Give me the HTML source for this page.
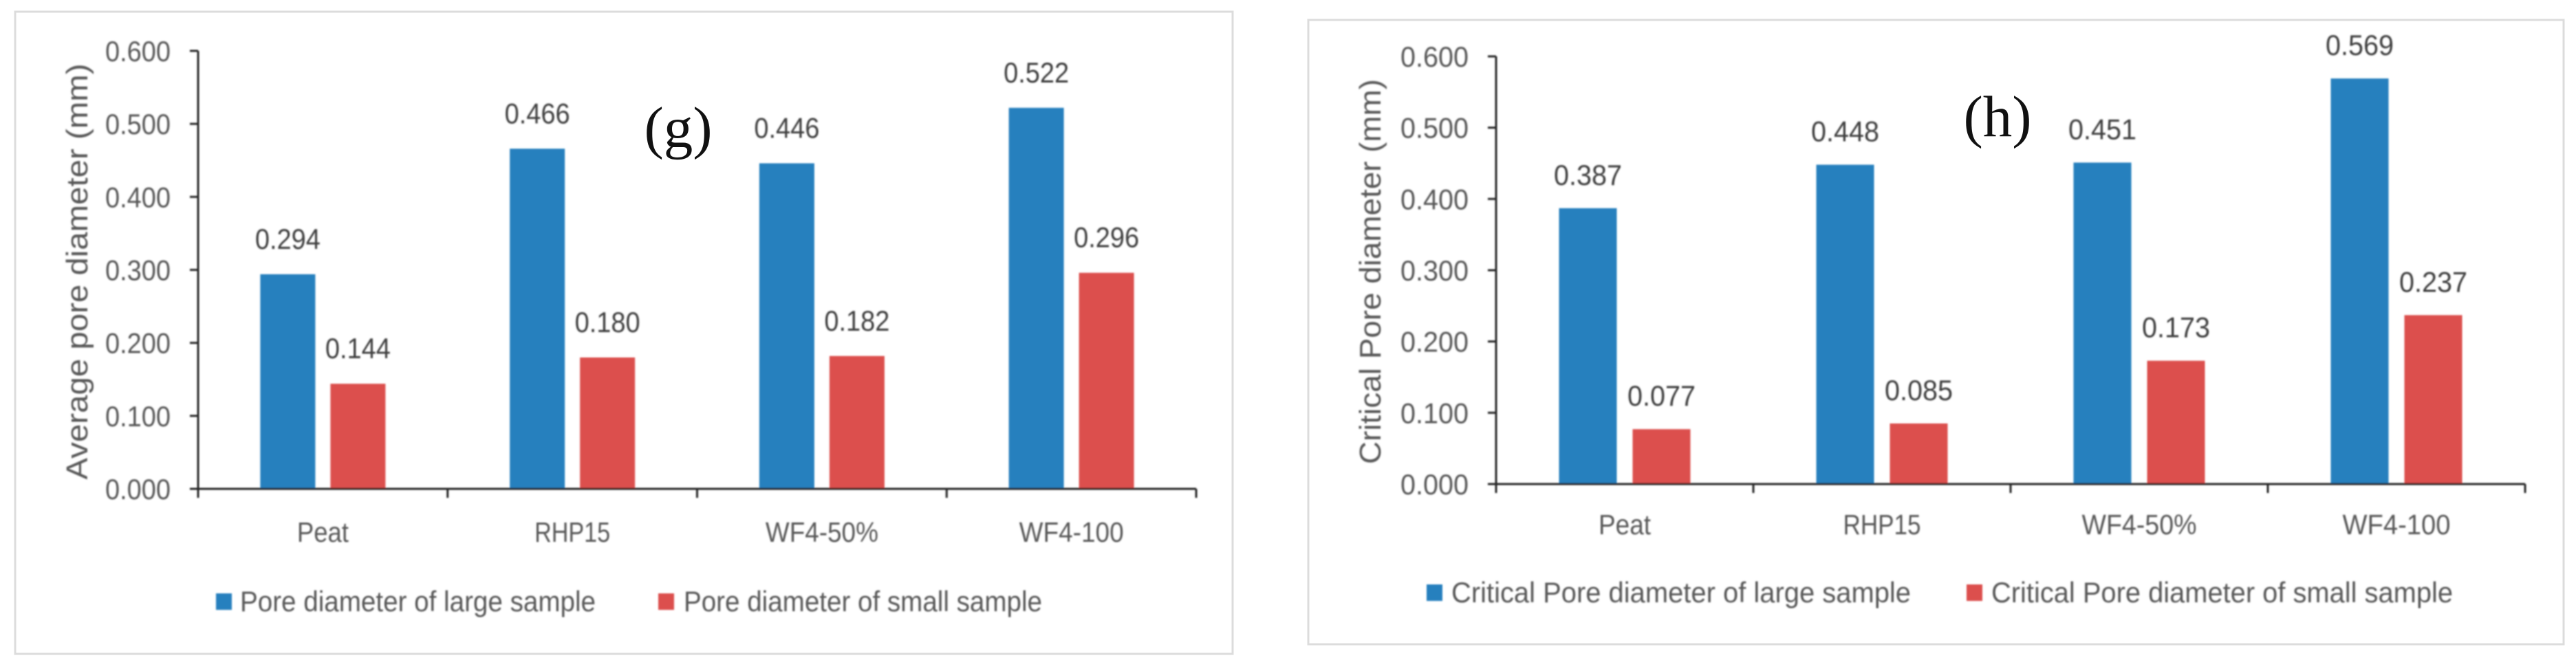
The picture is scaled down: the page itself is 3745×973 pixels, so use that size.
<!DOCTYPE html>
<html lang="en">
<head>
<meta charset="utf-8">
<title>Average and critical pore diameter charts</title>
<style>
  html, body { margin: 0; padding: 0; background: #fff; }
  svg { display: block; }
  text { font-family: "Liberation Sans", sans-serif; }
</style>
</head>
<body>
<svg id="figure" xmlns="http://www.w3.org/2000/svg" width="3745" height="973" viewBox="0 0 3745 973">
  <defs>
    <filter id="soft" x="-5%" y="-5%" width="110%" height="110%"><feGaussianBlur stdDeviation="1"/></filter>
  </defs>
  <rect width="3745" height="973" fill="#ffffff"/>
</svg>
<script>
const categories = ['Peat', 'RHP15', 'WF4-50%', 'WF4-100'];
const yTicks = [0, 0.1, 0.2, 0.3, 0.4, 0.5, 0.6];
const yTickLabels = ['0.000', '0.100', '0.200', '0.300', '0.400', '0.500', '0.600'];
const avgLarge = [0.294, 0.466, 0.446, 0.522];
const avgSmall = [0.144, 0.180, 0.182, 0.296];
const critLarge = [0.387, 0.448, 0.451, 0.569];
const critSmall = [0.077, 0.085, 0.173, 0.237];
const avgLargeLabels = ['0.294', '0.466', '0.446', '0.522'];
const avgSmallLabels = ['0.144', '0.180', '0.182', '0.296'];
const critLargeLabels = ['0.387', '0.448', '0.451', '0.569'];
const critSmallLabels = ['0.077', '0.085', '0.173', '0.237'];

const NS = 'http://www.w3.org/2000/svg';
const root = document.getElementById('figure');
const BLUE = '#2680be';
const RED = '#dc4f4d';

function svgEl(parent, tag, attrs, content) {
  const el = document.createElementNS(NS, tag);
  for (const k in attrs) el.setAttribute(k, attrs[k]);
  if (content !== undefined) el.textContent = content;
  parent.appendChild(el);
  return el;
}

function drawChart(c) {
  const g = svgEl(root, 'g', {});
  
  

  const frame = svgEl(g, 'rect', { x: c.frame[0], y: c.frame[1], width: c.frame[2] - c.frame[0], height: c.frame[3] - c.frame[1], fill: '#ffffff', stroke: '#dcdcdc', 'stroke-width': 3 });
  
  

  const yScale = v => c.baseY - (v / 0.6) * (c.baseY - c.topY);
  const catW = (c.endX - c.x0) / categories.length;
  const catX = i => c.x0 + catW * (i + 0.5);

  const soft = svgEl(g, 'g', { filter: 'url(#soft)' });
  
  

  // bars and value labels
  categories.forEach((cat, i) => {
    [[c.large, c.largeLabels, BLUE, -1, 'large'], [c.small, c.smallLabels, RED, 1, 'small']].forEach(s => {
      const v = s[0][i];
      const cx = catX(i) + s[3] * (c.barW + c.gap) / 2;
      const top = yScale(v);
      const bar = svgEl(soft, 'rect', { x: cx - c.barW / 2, y: top, width: c.barW, height: c.baseY - top, fill: s[2] });
      
      
      const lab = svgEl(soft, 'text', { x: cx, y: top - c.valueOffset, 'text-anchor': 'middle', 'font-size': 42, fill: '#404040', textLength: c.numLen, lengthAdjust: 'spacingAndGlyphs' }, s[1][i]);
      
      
    });
  });

  // axes
  const yAxis = svgEl(soft, 'line', { x1: c.x0, y1: c.topY, x2: c.x0, y2: c.baseY + 13, stroke: '#262626', 'stroke-width': 3 });
  
  
  const xAxis = svgEl(soft, 'line', { x1: c.x0 - 12, y1: c.baseY, x2: c.endX, y2: c.baseY, stroke: '#262626', 'stroke-width': 3 });
  
  

  yTicks.forEach((t, i) => {
    const y = yScale(t);
    const tick = svgEl(soft, 'line', { x1: c.x0 - 12, y1: y, x2: c.x0, y2: y, stroke: '#262626', 'stroke-width': 3 });
    
    
    const lab = svgEl(soft, 'text', { x: c.x0 - 40 - c.numLen / 2, y: y + 15, 'text-anchor': 'middle', 'font-size': 42, fill: '#595959', textLength: c.numLen, lengthAdjust: 'spacingAndGlyphs' }, yTickLabels[i]);
    
    
  });

  for (let i = 1; i <= categories.length; i++) {
    const x = c.x0 + catW * i;
    const tick = svgEl(soft, 'line', { x1: x, y1: c.baseY, x2: x, y2: c.baseY + 13, stroke: '#262626', 'stroke-width': 3 });
    
    
  }

  categories.forEach((cat, i) => {
    const lab = svgEl(soft, 'text', { x: catX(i), y: c.catY, 'text-anchor': 'middle', 'font-size': 41, fill: '#595959', textLength: c.catLens[i], lengthAdjust: 'spacingAndGlyphs' }, cat);
    
    
  });

  // y-axis title
  const title = svgEl(soft, 'text', { transform: 'translate(' + c.titleX + ',' + c.titleY + ') rotate(-90)', 'text-anchor': 'middle', 'font-size': 44, fill: '#595959', textLength: c.titleLen, lengthAdjust: 'spacingAndGlyphs' }, c.title);
  
  

  // legend
  c.legend.forEach((e, i) => {
    const sw = svgEl(soft, 'rect', { x: e.sw, y: c.legendY - 12, width: 23, height: 24, fill: i === 0 ? BLUE : RED });
    
    
    const t = svgEl(soft, 'text', { x: e.tx, y: c.legendY + 14, 'font-size': 42, fill: '#595959', textLength: e.len, lengthAdjust: 'spacingAndGlyphs' }, e.text);
    
    
  });

  // panel letter
  const letter = svgEl(g, 'text', { x: c.letterX, y: c.letterY, 'text-anchor': 'middle', 'font-size': 85, fill: '#111111', style: 'font-family:"Liberation Serif",serif' }, c.letter);
  
  
}

drawChart({
  id: 'average', frame: [22, 17, 1792, 951], x0: 288, endX: 1739, topY: 74, baseY: 711,
  barW: 80, gap: 22, large: avgLarge, small: avgSmall, largeLabels: avgLargeLabels, smallLabels: avgSmallLabels,
  numLen: 95, valueOffset: 37, catLens: [75, 110, 164, 152],
  catY: 788, legendY: 875, title: 'Average pore diameter (mm)', titleX: 127, titleY: 395, titleLen: 605,
  legend: [
    { sw: 314, tx: 349, len: 517, text: 'Pore diameter of large sample' },
    { sw: 957, tx: 994, len: 521, text: 'Pore diameter of small sample' }
  ],
  letter: '(g)', letterX: 986, letterY: 214
});

drawChart({
  id: 'critical', frame: [1902, 29, 3727, 937], x0: 2175, endX: 3671, topY: 82, baseY: 704,
  barW: 84, gap: 23, large: critLarge, small: critSmall, largeLabels: critLargeLabels, smallLabels: critSmallLabels,
  numLen: 99, valueOffset: 34, catLens: [76, 113, 167, 157],
  catY: 777, legendY: 862, title: 'Critical Pore diameter (mm)', titleX: 2007, titleY: 395, titleLen: 560,
  legend: [
    { sw: 2074, tx: 2110, len: 668, text: 'Critical Pore diameter of large sample' },
    { sw: 2859, tx: 2895, len: 671, text: 'Critical Pore diameter of small sample' }
  ],
  letter: '(h)', letterX: 2904, letterY: 198
});
</script>
</body>
</html>
